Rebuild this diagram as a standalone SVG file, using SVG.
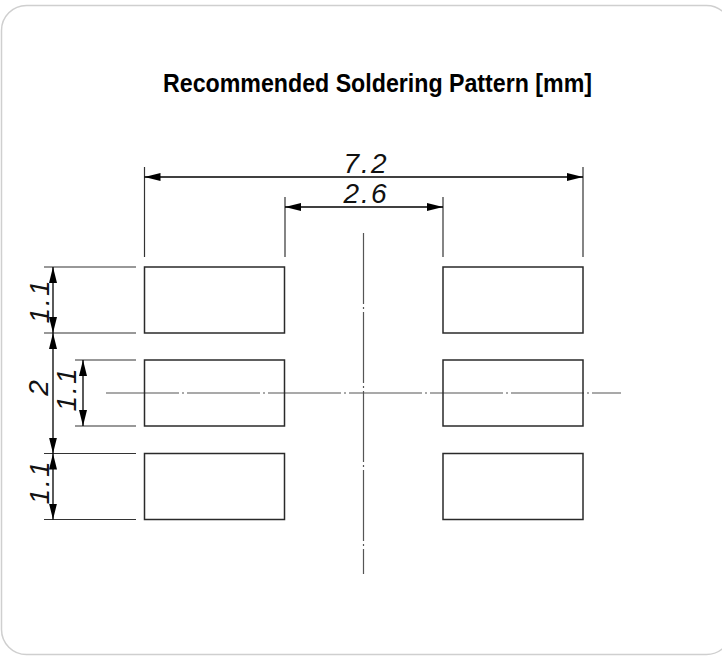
<svg xmlns="http://www.w3.org/2000/svg" width="722" height="656" viewBox="0 0 722 656">
<style>
.frame{fill:#fff;stroke:#cfcfcf;stroke-width:1.5}
.pad{fill:none;stroke:#2a2a2a;stroke-width:1.5}
.ext{stroke:#333;stroke-width:1.2;fill:none}
.dim{stroke:#000;stroke-width:1.3;fill:none;marker-start:url(#arr);marker-end:url(#arr)}
.cl{stroke:#555;stroke-width:1.2;fill:none}
.dt{font-family:"Liberation Sans",Arial,sans-serif;font-style:italic;font-size:28px;letter-spacing:2px;fill:#111;text-anchor:middle}
.title{font-family:"Liberation Sans",Arial,sans-serif;font-size:25px;fill:#000}
</style>
<defs>
<marker id="arr" markerUnits="userSpaceOnUse" markerWidth="17" markerHeight="9" refX="16" refY="4" orient="auto-start-reverse">
<path d="M0,0 L16,4 L0,8 Z" fill="#000"/>
</marker>
</defs>
<rect class="frame" x="1.5" y="5.5" width="730" height="649" rx="25" ry="25"/>
<text class="title" x="163" y="92" textLength="429" lengthAdjust="spacingAndGlyphs" font-weight="bold">Recommended Soldering Pattern [mm]</text>

<g id="centerlines">
<line class="cl" x1="363.5" y1="233" x2="363.5" y2="574" stroke-dasharray="71 3 2 3"/>
<line class="cl" x1="106" y1="393" x2="621" y2="393" stroke-dasharray="73 3 2 3"/>
</g>

<g id="pad-l1"><rect class="pad" x="144.5" y="267" width="140" height="66"/></g>
<g id="pad-l2"><rect class="pad" x="144.5" y="360" width="140" height="66"/></g>
<g id="pad-l3"><rect class="pad" x="144.5" y="453.5" width="140" height="66"/></g>
<g id="pad-r1"><rect class="pad" x="443" y="267" width="140" height="66"/></g>
<g id="pad-r2"><rect class="pad" x="443" y="360" width="140" height="66"/></g>
<g id="pad-r3"><rect class="pad" x="443" y="453.5" width="140" height="66"/></g>

<g id="connectors">
<line class="ext" x1="144.5" y1="167" x2="144.5" y2="257"/>
<line class="ext" x1="583" y1="167" x2="583" y2="257"/>
<line class="ext" x1="285" y1="197" x2="285" y2="257"/>
<line class="ext" x1="443" y1="197" x2="443" y2="257"/>
<line class="ext" x1="44" y1="267" x2="136" y2="267"/>
<line class="ext" x1="44" y1="333" x2="136" y2="333"/>
<line class="ext" x1="44" y1="453.5" x2="136" y2="453.5"/>
<line class="ext" x1="44" y1="519.5" x2="136" y2="519.5"/>
<line class="ext" x1="75" y1="360" x2="136" y2="360"/>
<line class="ext" x1="75" y1="426" x2="136" y2="426"/>
<line class="dim" x1="144.5" y1="177" x2="583" y2="177"/>
<line class="dim" x1="285" y1="207" x2="443" y2="207"/>
<line class="dim" x1="53" y1="267" x2="53" y2="333"/>
<line class="dim" x1="53" y1="333" x2="53" y2="453.5"/>
<line class="dim" x1="53" y1="453.5" x2="53" y2="519.5"/>
<line class="dim" x1="83" y1="360" x2="83" y2="426"/>
</g>

<g id="labels">
<text class="dt" x="366" y="173">7.2</text>
<text class="dt" x="366" y="203">2.6</text>
<text class="dt" transform="translate(49,301) rotate(-90)">1.1</text>
<text class="dt" transform="translate(48,387) rotate(-90)">2</text>
<text class="dt" transform="translate(76,389) rotate(-90)">1.1</text>
<text class="dt" transform="translate(49,482) rotate(-90)">1.1</text>
</g>
</svg>
